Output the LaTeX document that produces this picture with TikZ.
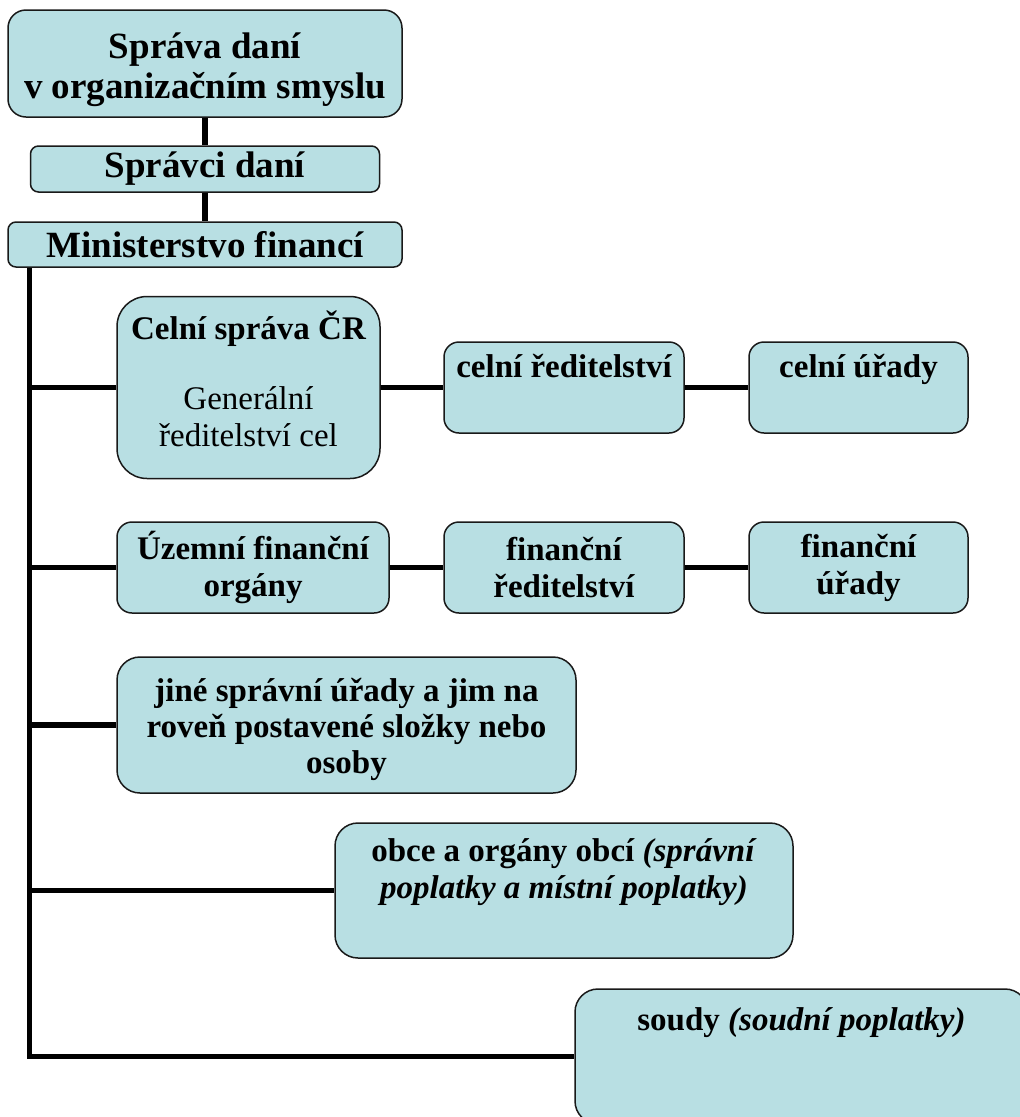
\documentclass[tikz,border=0pt]{standalone}
\usepackage{fontspec}
\setmainfont{Liberation Serif}
\usepackage{tikz}
\usetikzlibrary{calc}
\definecolor{boxfill}{HTML}{B8DFE3}

\begin{document}
\begin{tikzpicture}[x=1pt,y=-1pt,
    box/.style={draw=black!90, line width=1.5pt, fill=boxfill, rounded corners=15pt,
      inner sep=0pt, align=center, font=\fontsize{33}{37}\selectfont\bfseries},
    bigbox/.style={box, font=\fontsize{37}{40}\selectfont\bfseries},
    toptext/.style={anchor=north, align=center, inner sep=0pt,
      font=\fontsize{33}{37}\selectfont\bfseries},
    link/.style={line width=5.5pt}]
    \useasboundingbox (0,0) rectangle (1020,1117);
    \clip (0,0) rectangle (1020,1117);

    \node[bigbox, rounded corners=18pt, minimum width=394pt, minimum height=107pt,
      label={[toptext, font=\fontsize{37}{40}\selectfont\bfseries, yshift=-23pt]north:{Správa daní\\v organizačním smyslu}}] (SD) at (205,63.5) {};
    \node[bigbox, rounded corners=8pt, minimum width=349pt, minimum height=46pt] (SPR) at (205,169) {Správci daní};
    \node[bigbox, rounded corners=8pt, minimum width=394pt, minimum height=45pt] (MF) at (205,244.5) {Ministerstvo financí};

    \node[box, rounded corners=30pt, minimum width=263pt, minimum height=182pt,
      label={[toptext, yshift=-15pt]north:{Celní správa ČR\\[33pt]\mdseries Generální\\\mdseries ředitelství cel}}] (CS) at (248.5,387.5) {};
    \node[box, minimum width=240pt, minimum height=91pt,
      label={[toptext, yshift=-13pt]north:{celní ředitelství}}] (CR) at (564,387.5) {};
    \node[box, minimum width=219pt, minimum height=91pt,
      label={[toptext, yshift=-13pt]north:{celní úřady}}] (CU) at (858.5,387.5) {};

    \node[box, minimum width=272pt, minimum height=91pt] (UFO) at (253,567.5) {Územní finanční\\orgány};
    \node[box, minimum width=240pt, minimum height=91pt] (FR) at (564,567.5) {finanční\\ředitelství};
    \node[box, minimum width=219pt, minimum height=91pt] (FU) at (858.5,567.5) {finanční\\úřady};

    \node[box, rounded corners=23pt, minimum width=459pt, minimum height=136pt,
      label={[toptext, font=\fontsize{33}{36}\selectfont\bfseries, yshift=-22pt]north:{jiné správní úřady a jim na\\roveň postavené složky nebo\\osoby}}] (JSU) at (346.5,725) {};
    \node[box, rounded corners=23pt, minimum width=458pt, minimum height=135pt,
      label={[toptext, yshift=-16pt]north:{obce a orgány obcí \textit{(správní}\\\textit{poplatky a místní poplatky)}}}] (OBC) at (564,890.5) {};
    \node[box, rounded corners=23pt, minimum width=453pt, minimum height=135pt,
      label={[toptext, yshift=-19pt]north:{soudy \textit{(soudní poplatky)}}}] (SOU) at (801.5,1056.5) {};

    % top chain
    \draw[link] (SD) -- (SPR);
    \draw[link] (SPR) -- (MF);
    % spine on the left
    \coordinate (SP) at ([xshift=22pt]MF.south west);
    \draw[link] (SP) |- (SOU.west);
    \foreach \n in {CS,UFO,JSU,OBC}
      \draw[link] (SP |- \n.west) -- (\n.west);
    % rows
    \draw[link] (CS) -- (CR);
    \draw[link] (CR) -- (CU);
    \draw[link] (UFO) -- (FR);
    \draw[link] (FR) -- (FU);
\end{tikzpicture}
\end{document}
